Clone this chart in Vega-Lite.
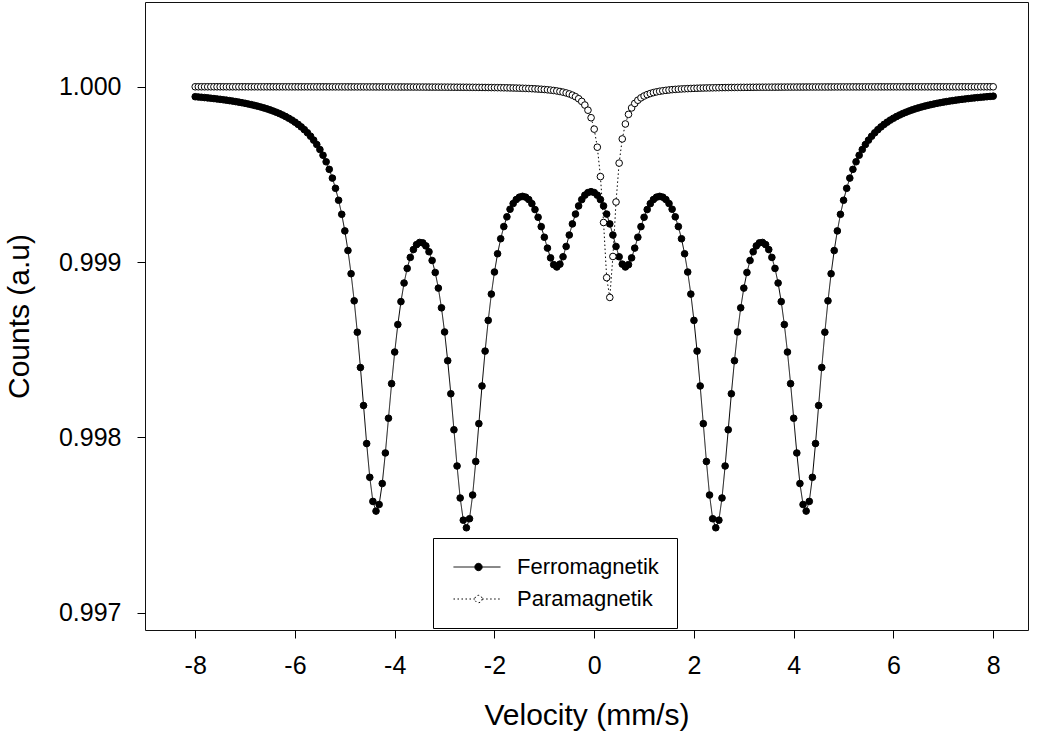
{
  "$schema": "https://vega.github.io/schema/vega-lite/v6.json",
  "width": 883,
  "height": 628,
  "autosize": {"type": "none"},
  "padding": {"left": 145, "top": 2, "right": 17, "bottom": 112},
  "background": "white",
  "config": {
    "font": "Liberation Sans",
    "view": {"stroke": "#111", "strokeWidth": 1},
    "axis": {"grid": false, "domain": false, "tickColor": "black", "tickWidth": 1, "tickSize": 8, "labelColor": "black", "titleColor": "black", "labelFont": "Liberation Sans", "titleFont": "Liberation Sans", "titleFontWeight": "normal", "labelFontSize": 25, "titleFontSize": 30},
    "legend": {"orient": "none", "legendX": 288, "legendY": 536, "padding": 18, "fillColor": "white", "strokeColor": "black", "labelFont": "Liberation Sans", "labelFontSize": 22, "labelColor": "black", "labelOffset": 44, "labelLimit": 400, "symbolSize": 441, "symbolStrokeWidth": 1, "symbolStrokeColor": "black", "rowPadding": 10, "symbolType": "M-0.81,0H1.221M1.921,0H3.667M1.921,0A0.35,0.35,0,1,1,1.221,0A0.35,0.35,0,1,1,1.921,0Z"}
  },
  "datasets": {
    "spectrum": [
{"v":-8,"Ferromagnetik":0.999943,"Paramagnetik":0.9999996},
{"v":-7.9375,"Ferromagnetik":0.9999414,"Paramagnetik":0.9999996},
{"v":-7.875,"Ferromagnetik":0.9999397,"Paramagnetik":0.9999996},
{"v":-7.8125,"Ferromagnetik":0.999938,"Paramagnetik":0.9999996},
{"v":-7.75,"Ferromagnetik":0.9999362,"Paramagnetik":0.9999996},
{"v":-7.6875,"Ferromagnetik":0.9999343,"Paramagnetik":0.9999996},
{"v":-7.625,"Ferromagnetik":0.9999323,"Paramagnetik":0.9999996},
{"v":-7.5625,"Ferromagnetik":0.9999302,"Paramagnetik":0.9999996},
{"v":-7.5,"Ferromagnetik":0.999928,"Paramagnetik":0.9999996},
{"v":-7.4375,"Ferromagnetik":0.9999257,"Paramagnetik":0.9999995},
{"v":-7.375,"Ferromagnetik":0.9999232,"Paramagnetik":0.9999995},
{"v":-7.3125,"Ferromagnetik":0.9999206,"Paramagnetik":0.9999995},
{"v":-7.25,"Ferromagnetik":0.9999179,"Paramagnetik":0.9999995},
{"v":-7.1875,"Ferromagnetik":0.999915,"Paramagnetik":0.9999995},
{"v":-7.125,"Ferromagnetik":0.9999119,"Paramagnetik":0.9999995},
{"v":-7.0625,"Ferromagnetik":0.9999087,"Paramagnetik":0.9999995},
{"v":-7,"Ferromagnetik":0.9999053,"Paramagnetik":0.9999995},
{"v":-6.9375,"Ferromagnetik":0.9999015,"Paramagnetik":0.9999995},
{"v":-6.875,"Ferromagnetik":0.9998977,"Paramagnetik":0.9999995},
{"v":-6.8125,"Ferromagnetik":0.9998935,"Paramagnetik":0.9999995},
{"v":-6.75,"Ferromagnetik":0.999889,"Paramagnetik":0.9999995},
{"v":-6.6875,"Ferromagnetik":0.9998843,"Paramagnetik":0.9999994},
{"v":-6.625,"Ferromagnetik":0.9998791,"Paramagnetik":0.9999994},
{"v":-6.5625,"Ferromagnetik":0.9998737,"Paramagnetik":0.9999994},
{"v":-6.5,"Ferromagnetik":0.9998677,"Paramagnetik":0.9999994},
{"v":-6.4375,"Ferromagnetik":0.9998613,"Paramagnetik":0.9999994},
{"v":-6.375,"Ferromagnetik":0.9998544,"Paramagnetik":0.9999994},
{"v":-6.3125,"Ferromagnetik":0.9998469,"Paramagnetik":0.9999994},
{"v":-6.25,"Ferromagnetik":0.9998388,"Paramagnetik":0.9999994},
{"v":-6.1875,"Ferromagnetik":0.9998299,"Paramagnetik":0.9999994},
{"v":-6.125,"Ferromagnetik":0.9998202,"Paramagnetik":0.9999993},
{"v":-6.0625,"Ferromagnetik":0.9998096,"Paramagnetik":0.9999993},
{"v":-6,"Ferromagnetik":0.9997979,"Paramagnetik":0.9999993},
{"v":-5.9375,"Ferromagnetik":0.9997851,"Paramagnetik":0.9999993},
{"v":-5.875,"Ferromagnetik":0.9997708,"Paramagnetik":0.9999993},
{"v":-5.8125,"Ferromagnetik":0.999755,"Paramagnetik":0.9999993},
{"v":-5.75,"Ferromagnetik":0.9997373,"Paramagnetik":0.9999993},
{"v":-5.6875,"Ferromagnetik":0.9997176,"Paramagnetik":0.9999992},
{"v":-5.625,"Ferromagnetik":0.9996953,"Paramagnetik":0.9999992},
{"v":-5.5625,"Ferromagnetik":0.9996702,"Paramagnetik":0.9999992},
{"v":-5.5,"Ferromagnetik":0.9996417,"Paramagnetik":0.9999992},
{"v":-5.4375,"Ferromagnetik":0.9996091,"Paramagnetik":0.9999992},
{"v":-5.375,"Ferromagnetik":0.9995718,"Paramagnetik":0.9999992},
{"v":-5.3125,"Ferromagnetik":0.9995287,"Paramagnetik":0.9999991},
{"v":-5.25,"Ferromagnetik":0.9994788,"Paramagnetik":0.9999991},
{"v":-5.1875,"Ferromagnetik":0.9994206,"Paramagnetik":0.9999991},
{"v":-5.125,"Ferromagnetik":0.9993525,"Paramagnetik":0.9999991},
{"v":-5.0625,"Ferromagnetik":0.9992723,"Paramagnetik":0.9999991},
{"v":-5,"Ferromagnetik":0.9991776,"Paramagnetik":0.999999},
{"v":-4.9375,"Ferromagnetik":0.9990657,"Paramagnetik":0.999999},
{"v":-4.875,"Ferromagnetik":0.9989336,"Paramagnetik":0.999999},
{"v":-4.8125,"Ferromagnetik":0.9987789,"Paramagnetik":0.999999},
{"v":-4.75,"Ferromagnetik":0.9986001,"Paramagnetik":0.9999989},
{"v":-4.6875,"Ferromagnetik":0.9983987,"Paramagnetik":0.9999989},
{"v":-4.625,"Ferromagnetik":0.9981821,"Paramagnetik":0.9999989},
{"v":-4.5625,"Ferromagnetik":0.9979651,"Paramagnetik":0.9999988},
{"v":-4.5,"Ferromagnetik":0.9977726,"Paramagnetik":0.9999988},
{"v":-4.4375,"Ferromagnetik":0.9976352,"Paramagnetik":0.9999988},
{"v":-4.375,"Ferromagnetik":0.99758,"Paramagnetik":0.9999988},
{"v":-4.3125,"Ferromagnetik":0.9976176,"Paramagnetik":0.9999987},
{"v":-4.25,"Ferromagnetik":0.9977372,"Paramagnetik":0.9999987},
{"v":-4.1875,"Ferromagnetik":0.9979115,"Paramagnetik":0.9999986},
{"v":-4.125,"Ferromagnetik":0.9981096,"Paramagnetik":0.9999986},
{"v":-4.0625,"Ferromagnetik":0.9983066,"Paramagnetik":0.9999986},
{"v":-4,"Ferromagnetik":0.998487,"Paramagnetik":0.9999985},
{"v":-3.9375,"Ferromagnetik":0.9986437,"Paramagnetik":0.9999985},
{"v":-3.875,"Ferromagnetik":0.9987745,"Paramagnetik":0.9999984},
{"v":-3.8125,"Ferromagnetik":0.9988805,"Paramagnetik":0.9999984},
{"v":-3.75,"Ferromagnetik":0.9989638,"Paramagnetik":0.9999983},
{"v":-3.6875,"Ferromagnetik":0.9990267,"Paramagnetik":0.9999983},
{"v":-3.625,"Ferromagnetik":0.9990713,"Paramagnetik":0.9999982},
{"v":-3.5625,"Ferromagnetik":0.9990994,"Paramagnetik":0.9999982},
{"v":-3.5,"Ferromagnetik":0.9991119,"Paramagnetik":0.9999981},
{"v":-3.4375,"Ferromagnetik":0.9991094,"Paramagnetik":0.9999981},
{"v":-3.375,"Ferromagnetik":0.999092,"Paramagnetik":0.999998},
{"v":-3.3125,"Ferromagnetik":0.9990589,"Paramagnetik":0.9999979},
{"v":-3.25,"Ferromagnetik":0.999009,"Paramagnetik":0.9999978},
{"v":-3.1875,"Ferromagnetik":0.9989406,"Paramagnetik":0.9999978},
{"v":-3.125,"Ferromagnetik":0.9988515,"Paramagnetik":0.9999977},
{"v":-3.0625,"Ferromagnetik":0.9987392,"Paramagnetik":0.9999976},
{"v":-3,"Ferromagnetik":0.9986015,"Paramagnetik":0.9999975},
{"v":-2.9375,"Ferromagnetik":0.9984375,"Paramagnetik":0.9999974},
{"v":-2.875,"Ferromagnetik":0.9982491,"Paramagnetik":0.9999973},
{"v":-2.8125,"Ferromagnetik":0.9980438,"Paramagnetik":0.9999972},
{"v":-2.75,"Ferromagnetik":0.9978372,"Paramagnetik":0.9999971},
{"v":-2.6875,"Ferromagnetik":0.9976548,"Paramagnetik":0.999997},
{"v":-2.625,"Ferromagnetik":0.9975282,"Paramagnetik":0.9999968},
{"v":-2.5625,"Ferromagnetik":0.997485,"Paramagnetik":0.9999967},
{"v":-2.5,"Ferromagnetik":0.9975365,"Paramagnetik":0.9999965},
{"v":-2.4375,"Ferromagnetik":0.9976717,"Paramagnetik":0.9999964},
{"v":-2.375,"Ferromagnetik":0.9978628,"Paramagnetik":0.9999962},
{"v":-2.3125,"Ferromagnetik":0.9980785,"Paramagnetik":0.999996},
{"v":-2.25,"Ferromagnetik":0.9982935,"Paramagnetik":0.9999958},
{"v":-2.1875,"Ferromagnetik":0.9984923,"Paramagnetik":0.9999956},
{"v":-2.125,"Ferromagnetik":0.9986675,"Paramagnetik":0.9999954},
{"v":-2.0625,"Ferromagnetik":0.9988174,"Paramagnetik":0.9999951},
{"v":-2,"Ferromagnetik":0.9989433,"Paramagnetik":0.9999949},
{"v":-1.9375,"Ferromagnetik":0.9990475,"Paramagnetik":0.9999946},
{"v":-1.875,"Ferromagnetik":0.9991331,"Paramagnetik":0.9999943},
{"v":-1.8125,"Ferromagnetik":0.9992025,"Paramagnetik":0.9999939},
{"v":-1.75,"Ferromagnetik":0.999258,"Paramagnetik":0.9999936},
{"v":-1.6875,"Ferromagnetik":0.9993013,"Paramagnetik":0.9999931},
{"v":-1.625,"Ferromagnetik":0.9993338,"Paramagnetik":0.9999927},
{"v":-1.5625,"Ferromagnetik":0.9993566,"Paramagnetik":0.9999922},
{"v":-1.5,"Ferromagnetik":0.9993701,"Paramagnetik":0.9999917},
{"v":-1.4375,"Ferromagnetik":0.9993747,"Paramagnetik":0.999991},
{"v":-1.375,"Ferromagnetik":0.9993702,"Paramagnetik":0.9999904},
{"v":-1.3125,"Ferromagnetik":0.9993565,"Paramagnetik":0.9999896},
{"v":-1.25,"Ferromagnetik":0.999333,"Paramagnetik":0.9999888},
{"v":-1.1875,"Ferromagnetik":0.9992994,"Paramagnetik":0.9999878},
{"v":-1.125,"Ferromagnetik":0.9992555,"Paramagnetik":0.9999867},
{"v":-1.0625,"Ferromagnetik":0.999202,"Paramagnetik":0.9999855},
{"v":-1,"Ferromagnetik":0.9991417,"Paramagnetik":0.9999841},
{"v":-0.9375,"Ferromagnetik":0.9990796,"Paramagnetik":0.9999825},
{"v":-0.875,"Ferromagnetik":0.9990239,"Paramagnetik":0.9999806},
{"v":-0.8125,"Ferromagnetik":0.9989851,"Paramagnetik":0.9999784},
{"v":-0.75,"Ferromagnetik":0.998972,"Paramagnetik":0.9999758},
{"v":-0.6875,"Ferromagnetik":0.9989883,"Paramagnetik":0.9999727},
{"v":-0.625,"Ferromagnetik":0.9990303,"Paramagnetik":0.999969},
{"v":-0.5625,"Ferromagnetik":0.999089,"Paramagnetik":0.9999645},
{"v":-0.5,"Ferromagnetik":0.9991542,"Paramagnetik":0.9999589},
{"v":-0.4375,"Ferromagnetik":0.9992175,"Paramagnetik":0.9999519},
{"v":-0.375,"Ferromagnetik":0.9992737,"Paramagnetik":0.9999431},
{"v":-0.3125,"Ferromagnetik":0.9993202,"Paramagnetik":0.9999315},
{"v":-0.25,"Ferromagnetik":0.9993561,"Paramagnetik":0.9999162},
{"v":-0.1875,"Ferromagnetik":0.9993815,"Paramagnetik":0.9998954},
{"v":-0.125,"Ferromagnetik":0.9993964,"Paramagnetik":0.999866},
{"v":-0.0625,"Ferromagnetik":0.9994014,"Paramagnetik":0.9998231},
{"v":0,"Ferromagnetik":0.9993964,"Paramagnetik":0.999758},
{"v":0.0625,"Ferromagnetik":0.9993815,"Paramagnetik":0.999655},
{"v":0.125,"Ferromagnetik":0.9993561,"Paramagnetik":0.9994875},
{"v":0.1875,"Ferromagnetik":0.9993202,"Paramagnetik":0.9992256},
{"v":0.25,"Ferromagnetik":0.9992737,"Paramagnetik":0.998911},
{"v":0.3125,"Ferromagnetik":0.9992175,"Paramagnetik":0.9987983},
{"v":0.375,"Ferromagnetik":0.9991542,"Paramagnetik":0.999032},
{"v":0.4375,"Ferromagnetik":0.999089,"Paramagnetik":0.9993425},
{"v":0.5,"Ferromagnetik":0.9990303,"Paramagnetik":0.9995644},
{"v":0.5625,"Ferromagnetik":0.9989883,"Paramagnetik":0.9997022},
{"v":0.625,"Ferromagnetik":0.998972,"Paramagnetik":0.9997875},
{"v":0.6875,"Ferromagnetik":0.9989851,"Paramagnetik":0.9998423},
{"v":0.75,"Ferromagnetik":0.9990239,"Paramagnetik":0.999879},
{"v":0.8125,"Ferromagnetik":0.9990796,"Paramagnetik":0.9999045},
{"v":0.875,"Ferromagnetik":0.9991417,"Paramagnetik":0.9999229},
{"v":0.9375,"Ferromagnetik":0.999202,"Paramagnetik":0.9999365},
{"v":1,"Ferromagnetik":0.9992555,"Paramagnetik":0.9999469},
{"v":1.0625,"Ferromagnetik":0.9992994,"Paramagnetik":0.9999549},
{"v":1.125,"Ferromagnetik":0.999333,"Paramagnetik":0.9999613},
{"v":1.1875,"Ferromagnetik":0.9993565,"Paramagnetik":0.9999664},
{"v":1.25,"Ferromagnetik":0.9993702,"Paramagnetik":0.9999706},
{"v":1.3125,"Ferromagnetik":0.9993747,"Paramagnetik":0.999974},
{"v":1.375,"Ferromagnetik":0.9993701,"Paramagnetik":0.9999769},
{"v":1.4375,"Ferromagnetik":0.9993566,"Paramagnetik":0.9999793},
{"v":1.5,"Ferromagnetik":0.9993338,"Paramagnetik":0.9999814},
{"v":1.5625,"Ferromagnetik":0.9993013,"Paramagnetik":0.9999832},
{"v":1.625,"Ferromagnetik":0.999258,"Paramagnetik":0.9999847},
{"v":1.6875,"Ferromagnetik":0.9992025,"Paramagnetik":0.999986},
{"v":1.75,"Ferromagnetik":0.9991331,"Paramagnetik":0.9999872},
{"v":1.8125,"Ferromagnetik":0.9990475,"Paramagnetik":0.9999882},
{"v":1.875,"Ferromagnetik":0.9989433,"Paramagnetik":0.9999891},
{"v":1.9375,"Ferromagnetik":0.9988174,"Paramagnetik":0.9999899},
{"v":2,"Ferromagnetik":0.9986675,"Paramagnetik":0.9999907},
{"v":2.0625,"Ferromagnetik":0.9984923,"Paramagnetik":0.9999913},
{"v":2.125,"Ferromagnetik":0.9982935,"Paramagnetik":0.9999919},
{"v":2.1875,"Ferromagnetik":0.9980785,"Paramagnetik":0.9999924},
{"v":2.25,"Ferromagnetik":0.9978628,"Paramagnetik":0.9999929},
{"v":2.3125,"Ferromagnetik":0.9976717,"Paramagnetik":0.9999933},
{"v":2.375,"Ferromagnetik":0.9975365,"Paramagnetik":0.9999937},
{"v":2.4375,"Ferromagnetik":0.997485,"Paramagnetik":0.9999941},
{"v":2.5,"Ferromagnetik":0.9975282,"Paramagnetik":0.9999944},
{"v":2.5625,"Ferromagnetik":0.9976548,"Paramagnetik":0.9999947},
{"v":2.625,"Ferromagnetik":0.9978372,"Paramagnetik":0.999995},
{"v":2.6875,"Ferromagnetik":0.9980438,"Paramagnetik":0.9999952},
{"v":2.75,"Ferromagnetik":0.9982491,"Paramagnetik":0.9999955},
{"v":2.8125,"Ferromagnetik":0.9984375,"Paramagnetik":0.9999957},
{"v":2.875,"Ferromagnetik":0.9986015,"Paramagnetik":0.9999959},
{"v":2.9375,"Ferromagnetik":0.9987392,"Paramagnetik":0.9999961},
{"v":3,"Ferromagnetik":0.9988515,"Paramagnetik":0.9999963},
{"v":3.0625,"Ferromagnetik":0.9989406,"Paramagnetik":0.9999964},
{"v":3.125,"Ferromagnetik":0.999009,"Paramagnetik":0.9999966},
{"v":3.1875,"Ferromagnetik":0.9990589,"Paramagnetik":0.9999967},
{"v":3.25,"Ferromagnetik":0.999092,"Paramagnetik":0.9999969},
{"v":3.3125,"Ferromagnetik":0.9991094,"Paramagnetik":0.999997},
{"v":3.375,"Ferromagnetik":0.9991119,"Paramagnetik":0.9999971},
{"v":3.4375,"Ferromagnetik":0.9990994,"Paramagnetik":0.9999972},
{"v":3.5,"Ferromagnetik":0.9990713,"Paramagnetik":0.9999973},
{"v":3.5625,"Ferromagnetik":0.9990267,"Paramagnetik":0.9999974},
{"v":3.625,"Ferromagnetik":0.9989638,"Paramagnetik":0.9999975},
{"v":3.6875,"Ferromagnetik":0.9988805,"Paramagnetik":0.9999976},
{"v":3.75,"Ferromagnetik":0.9987745,"Paramagnetik":0.9999977},
{"v":3.8125,"Ferromagnetik":0.9986437,"Paramagnetik":0.9999978},
{"v":3.875,"Ferromagnetik":0.998487,"Paramagnetik":0.9999979},
{"v":3.9375,"Ferromagnetik":0.9983066,"Paramagnetik":0.9999979},
{"v":4,"Ferromagnetik":0.9981096,"Paramagnetik":0.999998},
{"v":4.0625,"Ferromagnetik":0.9979115,"Paramagnetik":0.9999981},
{"v":4.125,"Ferromagnetik":0.9977372,"Paramagnetik":0.9999981},
{"v":4.1875,"Ferromagnetik":0.9976176,"Paramagnetik":0.9999982},
{"v":4.25,"Ferromagnetik":0.99758,"Paramagnetik":0.9999983},
{"v":4.3125,"Ferromagnetik":0.9976352,"Paramagnetik":0.9999983},
{"v":4.375,"Ferromagnetik":0.9977726,"Paramagnetik":0.9999984},
{"v":4.4375,"Ferromagnetik":0.9979651,"Paramagnetik":0.9999984},
{"v":4.5,"Ferromagnetik":0.9981821,"Paramagnetik":0.9999985},
{"v":4.5625,"Ferromagnetik":0.9983987,"Paramagnetik":0.9999985},
{"v":4.625,"Ferromagnetik":0.9986001,"Paramagnetik":0.9999985},
{"v":4.6875,"Ferromagnetik":0.9987789,"Paramagnetik":0.9999986},
{"v":4.75,"Ferromagnetik":0.9989336,"Paramagnetik":0.9999986},
{"v":4.8125,"Ferromagnetik":0.9990657,"Paramagnetik":0.9999987},
{"v":4.875,"Ferromagnetik":0.9991776,"Paramagnetik":0.9999987},
{"v":4.9375,"Ferromagnetik":0.9992723,"Paramagnetik":0.9999987},
{"v":5,"Ferromagnetik":0.9993525,"Paramagnetik":0.9999988},
{"v":5.0625,"Ferromagnetik":0.9994206,"Paramagnetik":0.9999988},
{"v":5.125,"Ferromagnetik":0.9994788,"Paramagnetik":0.9999988},
{"v":5.1875,"Ferromagnetik":0.9995287,"Paramagnetik":0.9999989},
{"v":5.25,"Ferromagnetik":0.9995718,"Paramagnetik":0.9999989},
{"v":5.3125,"Ferromagnetik":0.9996091,"Paramagnetik":0.9999989},
{"v":5.375,"Ferromagnetik":0.9996417,"Paramagnetik":0.9999989},
{"v":5.4375,"Ferromagnetik":0.9996702,"Paramagnetik":0.999999},
{"v":5.5,"Ferromagnetik":0.9996953,"Paramagnetik":0.999999},
{"v":5.5625,"Ferromagnetik":0.9997176,"Paramagnetik":0.999999},
{"v":5.625,"Ferromagnetik":0.9997373,"Paramagnetik":0.999999},
{"v":5.6875,"Ferromagnetik":0.999755,"Paramagnetik":0.9999991},
{"v":5.75,"Ferromagnetik":0.9997708,"Paramagnetik":0.9999991},
{"v":5.8125,"Ferromagnetik":0.9997851,"Paramagnetik":0.9999991},
{"v":5.875,"Ferromagnetik":0.9997979,"Paramagnetik":0.9999991},
{"v":5.9375,"Ferromagnetik":0.9998096,"Paramagnetik":0.9999991},
{"v":6,"Ferromagnetik":0.9998202,"Paramagnetik":0.9999992},
{"v":6.0625,"Ferromagnetik":0.9998299,"Paramagnetik":0.9999992},
{"v":6.125,"Ferromagnetik":0.9998388,"Paramagnetik":0.9999992},
{"v":6.1875,"Ferromagnetik":0.9998469,"Paramagnetik":0.9999992},
{"v":6.25,"Ferromagnetik":0.9998544,"Paramagnetik":0.9999992},
{"v":6.3125,"Ferromagnetik":0.9998613,"Paramagnetik":0.9999992},
{"v":6.375,"Ferromagnetik":0.9998677,"Paramagnetik":0.9999993},
{"v":6.4375,"Ferromagnetik":0.9998737,"Paramagnetik":0.9999993},
{"v":6.5,"Ferromagnetik":0.9998791,"Paramagnetik":0.9999993},
{"v":6.5625,"Ferromagnetik":0.9998843,"Paramagnetik":0.9999993},
{"v":6.625,"Ferromagnetik":0.999889,"Paramagnetik":0.9999993},
{"v":6.6875,"Ferromagnetik":0.9998935,"Paramagnetik":0.9999993},
{"v":6.75,"Ferromagnetik":0.9998977,"Paramagnetik":0.9999993},
{"v":6.8125,"Ferromagnetik":0.9999015,"Paramagnetik":0.9999994},
{"v":6.875,"Ferromagnetik":0.9999053,"Paramagnetik":0.9999994},
{"v":6.9375,"Ferromagnetik":0.9999087,"Paramagnetik":0.9999994},
{"v":7,"Ferromagnetik":0.9999119,"Paramagnetik":0.9999994},
{"v":7.0625,"Ferromagnetik":0.999915,"Paramagnetik":0.9999994},
{"v":7.125,"Ferromagnetik":0.9999179,"Paramagnetik":0.9999994},
{"v":7.1875,"Ferromagnetik":0.9999206,"Paramagnetik":0.9999994},
{"v":7.25,"Ferromagnetik":0.9999232,"Paramagnetik":0.9999994},
{"v":7.3125,"Ferromagnetik":0.9999257,"Paramagnetik":0.9999994},
{"v":7.375,"Ferromagnetik":0.999928,"Paramagnetik":0.9999995},
{"v":7.4375,"Ferromagnetik":0.9999302,"Paramagnetik":0.9999995},
{"v":7.5,"Ferromagnetik":0.9999323,"Paramagnetik":0.9999995},
{"v":7.5625,"Ferromagnetik":0.9999343,"Paramagnetik":0.9999995},
{"v":7.625,"Ferromagnetik":0.9999362,"Paramagnetik":0.9999995},
{"v":7.6875,"Ferromagnetik":0.999938,"Paramagnetik":0.9999995},
{"v":7.75,"Ferromagnetik":0.9999397,"Paramagnetik":0.9999995},
{"v":7.8125,"Ferromagnetik":0.9999414,"Paramagnetik":0.9999995},
{"v":7.875,"Ferromagnetik":0.999943,"Paramagnetik":0.9999995},
{"v":7.9375,"Ferromagnetik":0.9999445,"Paramagnetik":0.9999995},
{"v":8,"Ferromagnetik":0.9999459,"Paramagnetik":0.9999995}
    ]
  },
  "data": {"name": "spectrum"},
  "transform": [
    {"fold": ["Ferromagnetik", "Paramagnetik"], "as": ["series", "counts"]}
  ],
  "encoding": {
    "x": {
      "field": "v", "type": "quantitative",
      "scale": {"domain": [-9.007, 8.698], "nice": false, "zero": false},
      "axis": {"values": [-8, -6, -4, -2, 0, 2, 4, 6, 8], "labelExpr": "'' + datum.value", "labelPadding": 15, "titlePadding": 22, "title": "Velocity (mm/s)"}
    },
    "y": {
      "field": "counts", "type": "quantitative",
      "scale": {"domain": [0.996902, 1.000483], "nice": false, "zero": false},
      "axis": {"values": [0.997, 0.998, 0.999, 1.0], "format": ".3f", "labelPadding": 16, "titlePadding": 24, "title": "Counts (a.u)"}
    }
  },
  "layer": [
    {
      "mark": {"type": "line", "color": "black", "strokeWidth": 1},
      "encoding": {
        "strokeDash": {
          "field": "series", "type": "nominal",
          "scale": {"domain": ["Ferromagnetik", "Paramagnetik"], "range": [[1, 0], [1.5, 2.5]]},
          "legend": {"title": null}
        }
      }
    },
    {
      "mark": {"type": "point", "filled": true, "stroke": "black", "strokeWidth": 1, "size": 44, "opacity": 1},
      "encoding": {
        "fill": {
          "field": "series", "type": "nominal",
          "scale": {"domain": ["Ferromagnetik", "Paramagnetik"], "range": ["black", "white"]},
          "legend": {"title": null}
        },
        "order": {"field": "series"}
      }
    }
  ]
}
